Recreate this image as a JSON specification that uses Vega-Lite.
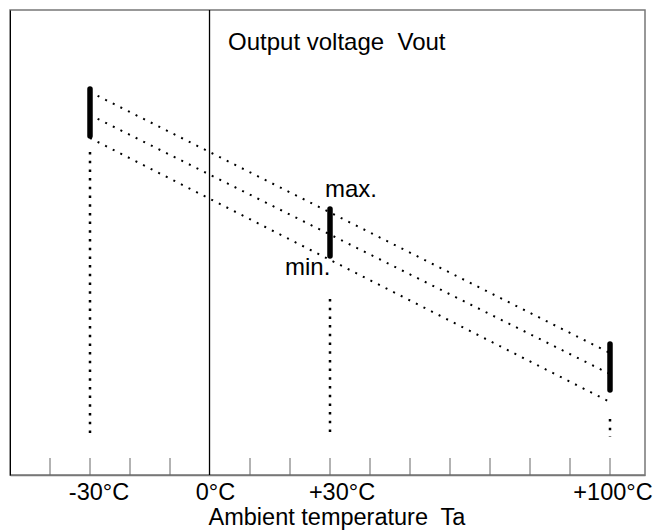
{
  "$schema": "https://vega.github.io/schema/vega-lite/v6.json",
  "width": 635,
  "height": 465,
  "autosize": {"type": "none"},
  "padding": {"left": 10, "top": 10, "right": 10, "bottom": 56},
  "background": "white",
  "config": {
    "view": {"stroke": "#777777", "strokeWidth": 1.5},
    "font": "Liberation Sans"
  },
  "datasets": {
    "lines": [
      {"series": "top", "t": -30, "v": 383},
      {"series": "top", "t": 100, "v": 122},
      {"series": "mid", "t": -30, "v": 360},
      {"series": "mid", "t": 100, "v": 101},
      {"series": "bottom", "t": -30, "v": 337},
      {"series": "bottom", "t": 100, "v": 73}
    ],
    "bars": [
      {"t": -30, "v1": 339, "v2": 386},
      {"t": 30, "v1": 219, "v2": 266},
      {"t": 100, "v1": 85, "v2": 131}
    ],
    "drops": [
      {"t": -30, "v1": 38, "v2": 323},
      {"t": 30, "v1": 38, "v2": 176},
      {"t": 100, "v1": 38, "v2": 56}
    ],
    "zero": [{"t": -0.12, "v1": 0, "v2": 465}],
    "ticks": [
      {"t": -40, "v1": 0, "v2": 17},
      {"t": -30, "v1": 0, "v2": 17},
      {"t": -20, "v1": 0, "v2": 17},
      {"t": -10, "v1": 0, "v2": 17},
      {"t": 10, "v1": 0, "v2": 17},
      {"t": 20, "v1": 0, "v2": 17},
      {"t": 30, "v1": 0, "v2": 17},
      {"t": 40, "v1": 0, "v2": 17},
      {"t": 50, "v1": 0, "v2": 17},
      {"t": 60, "v1": 0, "v2": 17},
      {"t": 70, "v1": 0, "v2": 17},
      {"t": 80, "v1": 0, "v2": 17},
      {"t": 90, "v1": 0, "v2": 17},
      {"t": 100, "v1": 0, "v2": 17}
    ],
    "labels": [
      {"t": 4.5, "v": 425, "label": "Output voltage\u00a0 Vout"},
      {"t": 28.75, "v": 278, "label": "max."},
      {"t": 18.75, "v": 200, "label": "min."}
    ]
  },
  "layer": [
    {
      "data": {"name": "ticks"},
      "mark": {"type": "rule", "color": "#666666", "strokeWidth": 1},
      "encoding": {
        "x": {
          "field": "t",
          "type": "quantitative",
          "scale": {"domain": [-50, 108.75], "nice": false, "zero": false},
          "axis": {
            "values": [-30, 0, 30, 100],
            "labelExpr": "datum.value == -30 ? '-30°C' : datum.value == 0 ? '0°C' : datum.value == 30 ? '+30°C' : '+100°C'",
            "ticks": false,
            "grid": false,
            "domainColor": "#777777",
            "domainWidth": 1.5,
            "labelFont": "Liberation Sans",
            "labelFontSize": 23.5,
            "labelColor": "black",
            "labelBaseline": "alphabetic",
            "labelPadding": 24,
            "labelFlush": false,
            "labelOverlap": false,
            "labelOffset": {
              "condition": [
                {"test": "datum.value == -30", "value": 8.5},
                {"test": "datum.value == 0", "value": 5},
                {"test": "datum.value == 30", "value": 11.5}
              ],
              "value": 2.5
            },
            "title": "Ambient temperature\u00a0 Ta",
            "titleFont": "Liberation Sans",
            "titleFontSize": 23.5,
            "titleFontWeight": "normal",
            "titleColor": "black",
            "titleBaseline": "alphabetic",
            "titleAlign": "center",
            "titleX": 326.5,
            "titleY": 49
          }
        },
        "y": {
          "field": "v1",
          "type": "quantitative",
          "scale": {"domain": [0, 465], "nice": false, "zero": false},
          "axis": {
            "ticks": false,
            "labels": false,
            "grid": false,
            "title": null,
            "domainColor": "black",
            "domainWidth": 1
          }
        },
        "y2": {"field": "v2"}
      }
    },
    {
      "data": {"name": "zero"},
      "mark": {"type": "rule", "color": "black", "strokeWidth": 1.3},
      "encoding": {
        "x": {"field": "t", "type": "quantitative"},
        "y": {"field": "v1", "type": "quantitative"},
        "y2": {"field": "v2"}
      }
    },
    {
      "data": {"name": "lines"},
      "mark": {"type": "line", "color": "black", "strokeWidth": 2, "strokeDash": [2, 6.5]},
      "encoding": {
        "x": {"field": "t", "type": "quantitative"},
        "y": {"field": "v", "type": "quantitative"},
        "detail": {"field": "series", "type": "nominal"}
      }
    },
    {
      "data": {"name": "drops"},
      "mark": {"type": "rule", "color": "black", "strokeWidth": 2.5, "strokeDash": [2.5, 6.2]},
      "encoding": {
        "x": {"field": "t", "type": "quantitative"},
        "y": {"field": "v2", "type": "quantitative"},
        "y2": {"field": "v1"}
      }
    },
    {
      "data": {"name": "bars"},
      "mark": {"type": "rule", "color": "black", "strokeWidth": 5.5, "strokeCap": "round"},
      "encoding": {
        "x": {"field": "t", "type": "quantitative"},
        "y": {"field": "v1", "type": "quantitative"},
        "y2": {"field": "v2"}
      }
    },
    {
      "data": {"name": "labels"},
      "mark": {"type": "text", "align": "left", "baseline": "alphabetic", "font": "Liberation Sans", "fontSize": 24, "color": "black"},
      "encoding": {
        "x": {"field": "t", "type": "quantitative"},
        "y": {"field": "v", "type": "quantitative"},
        "text": {"field": "label", "type": "nominal"}
      }
    }
  ]
}
